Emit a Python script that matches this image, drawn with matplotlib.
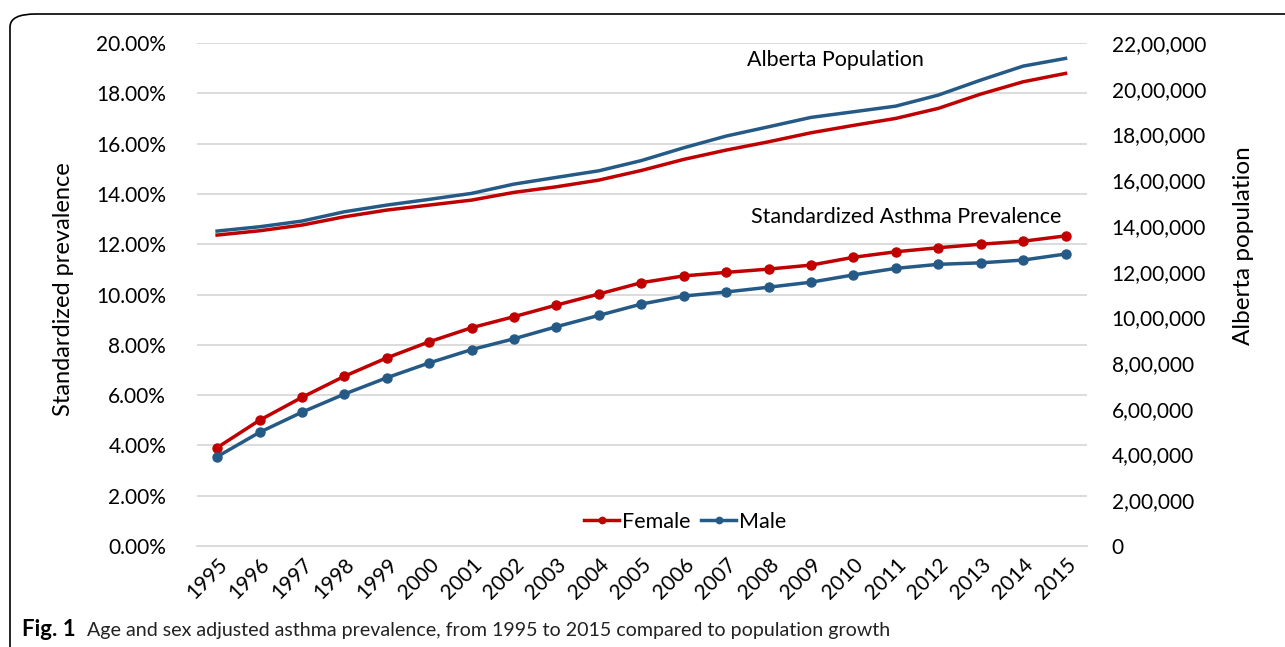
import numpy as np
import matplotlib.pyplot as plt
from matplotlib.patches import FancyBboxPatch
from matplotlib.ticker import FuncFormatter, MultipleLocator

plt.rcParams['font.family'] = ['Lato', 'DejaVu Sans']

years = list(range(1995, 2016))
# standardized asthma prevalence (%)
female_prev = [3.91, 5.00, 5.91, 6.75, 7.48, 8.12, 8.68, 9.12, 9.58, 10.02, 10.47,
               10.74, 10.88, 11.01, 11.17, 11.48, 11.70, 11.86, 12.00, 12.12, 12.33]
male_prev = [3.55, 4.52, 5.32, 6.04, 6.69, 7.28, 7.81, 8.24, 8.72, 9.17, 9.62,
             9.94, 10.10, 10.29, 10.49, 10.78, 11.04, 11.20, 11.26, 11.37, 11.61]
# Alberta population
female_pop = [1360000, 1378800, 1403700, 1440000, 1469300, 1491200, 1513000, 1546800,
              1571200, 1600500, 1642500, 1691000, 1731700, 1768000, 1807400, 1839700,
              1870300, 1914100, 1976600, 2030400, 2067100]
male_pop = [1377500, 1396300, 1421200, 1461900, 1491200, 1516100, 1542400, 1583000,
            1612300, 1641200, 1685800, 1741800, 1793000, 1833600, 1874700, 1899200,
            1924100, 1972200, 2037800, 2099000, 2132700]

RED = '#C00000'
BLUE = '#255A87'


def indian_fmt(v, pos):
    # 2200000 -> 22,00,000
    v = int(round(v))
    if v == 0:
        return '0'
    s = str(v)
    last3, rest = s[-3:], s[:-3]
    parts = []
    while len(rest) > 2:
        parts.insert(0, rest[-2:])
        rest = rest[:-2]
    if rest:
        parts.insert(0, rest)
    return ','.join(parts + [last3])


fig = plt.figure(figsize=(12.85, 6.47), dpi=100)
ax = fig.add_axes([0.1531, 0.1561, 0.6926, 0.7774])
ax2 = ax.twinx()

x = np.arange(len(years))
fprev = np.array(female_prev) / 100
mprev = np.array(male_prev) / 100

ax.plot(x, fprev, color=RED, lw=2.5, marker='o', ms=6.5, label='Female', zorder=3)
ax.plot(x, mprev, color=BLUE, lw=2.5, marker='o', ms=6.5, label='Male', zorder=3)
ax2.plot(x, female_pop, color=RED, lw=2.5)
ax2.plot(x, male_pop, color=BLUE, lw=2.5)

ax.set_xlim(-0.48, 20.5)
ax.set_ylim(0, 0.20)
ax2.set_ylim(0, 2200000)
ax.yaxis.set_major_locator(MultipleLocator(0.02))
ax2.yaxis.set_major_locator(MultipleLocator(200000))
ax.yaxis.set_major_formatter(FuncFormatter(lambda v, p: '%.2f%%' % (v * 100)))
ax2.yaxis.set_major_formatter(FuncFormatter(indian_fmt))
ax.grid(axis='y', color='#D9D9D9', lw=1.3)
ax.set_axisbelow(True)

for a in (ax, ax2):
    for s in a.spines.values():
        s.set_visible(False)
ax.spines['bottom'].set_visible(True)
ax.spines['bottom'].set_color('#D9D9D9')
ax.spines['bottom'].set_linewidth(1.3)

ax.set_xticks(x)
ax.set_xticklabels([str(y) for y in years], rotation=45, ha='right',
                   rotation_mode='anchor', fontsize=15)
ax.tick_params(axis='x', length=0, pad=6)
ax.tick_params(axis='y', length=0, pad=22, labelsize=15)
ax2.tick_params(axis='y', length=0, pad=18, labelsize=15)

ax.set_ylabel('Standardized prevalence', fontsize=17)
ax.yaxis.set_label_coords(-0.138, 0.51)
ax2.set_ylabel('Alberta population', fontsize=17.5, rotation=90)
ax2.yaxis.set_label_coords(1.164, 0.598)

ax.text(0.618, 0.966, 'Alberta Population', transform=ax.transAxes,
        fontsize=15.5, va='center', ha='left')
ax.text(0.623, 0.654, 'Standardized Asthma Prevalence', transform=ax.transAxes,
        fontsize=15.5, va='center', ha='left')

ax.legend(loc='center', bbox_to_anchor=(0.549, 0.048), ncol=2, frameon=False,
          fontsize=15.5, handlelength=1.6, handletextpad=0.15, columnspacing=0.5,
          markerscale=0.7)

fig.text(0.017, 0.0165, 'Fig. 1', fontsize=16, fontweight='bold', va='baseline')
fig.text(0.0677, 0.0165, 'Age and sex adjusted asthma prevalence, from 1995 to 2015 compared to population growth',
         fontsize=14.1, va='baseline', color='#222222')

frame = FancyBboxPatch((10 / 1285, -0.2), 1.5, 1.2 - 14 / 647,
                       boxstyle='round,pad=0,rounding_size=0.02',
                       transform=fig.transFigure, fill=False, ec='black', lw=1.2,
                       clip_on=False)
fig.patches.append(frame)

fig.savefig('out.png', dpi=100)
